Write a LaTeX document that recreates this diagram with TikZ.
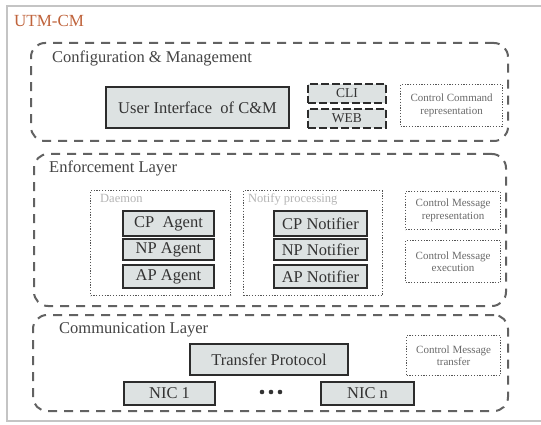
\documentclass[tikz,border=0pt]{standalone}
\usepackage{fontspec}
\setmainfont{Liberation Serif}
\definecolor{layergray}{HTML}{626262}
\definecolor{boxline}{HTML}{2C2C2C}
\definecolor{boxfill}{HTML}{DDE2E2}
\definecolor{textdark}{HTML}{333333}
\definecolor{titlegray}{HTML}{444444}
\definecolor{dotgray}{HTML}{555555}
\definecolor{smallgray}{HTML}{6A6A6A}
\definecolor{labelgray}{HTML}{B5B5B5}
\definecolor{utmcol}{HTML}{C0643C}
\definecolor{framecol}{HTML}{C4C4C4}
\begin{document}
\begin{tikzpicture}[x=1pt,y=-1pt,
  layer/.style={draw=layergray, line width=2pt, dash pattern=on 9pt off 7pt, rounded corners=14pt, anchor=north west, inner sep=0pt},
  solidbox/.style={draw=boxline, line width=2pt, fill=boxfill, anchor=north west, inner sep=0pt, font=\fontsize{16.5}{18}\selectfont, text=textdark},
  dashbox/.style={draw=boxline, line width=1.8pt, dash pattern=on 8pt off 3pt, fill=boxfill, anchor=north west, inner sep=0pt, font=\fontsize{13.5}{15}\selectfont, text=textdark},
  dotbox/.style={draw=dotgray, line width=1.2pt, dash pattern=on 1.2pt off 1.6pt, anchor=north west, inner sep=0pt, align=center, font=\fontsize{11}{12.5}\selectfont, text=smallgray},
  grpbox/.style={draw=dotgray, line width=1.2pt, dash pattern=on 1.2pt off 1.6pt, anchor=north west, inner sep=0pt},
  title/.style={anchor=base west, inner sep=0pt, font=\fontsize{16.5}{18}\selectfont, text=titlegray},
  grplabel/.style={anchor=base west, inner sep=0pt, font=\fontsize{12.5}{14}\selectfont, text=labelgray},
]
\useasboundingbox (0,0) rectangle (541,425);
\fill[white] (0,0) rectangle (541,425);
% outer frame
\draw[framecol, line width=1.5pt] (545,6) -- (7,6) -- (7,421) -- (545,421);
\node[anchor=base west, inner sep=0pt, font=\fontsize{17}{19}\selectfont, text=utmcol] (utm) at (14,27) {UTM-CM};

% Configuration & Management
\node[layer, minimum width=477pt, minimum height=98pt] (cm) at (30,42) {};
\node[title] (cmt) at (52,63) {Configuration \& Management};
\node[solidbox, minimum width=183pt, minimum height=41pt] (ui) at (105,86) {User Interface\ \ of C\&M};
\node[dashbox, minimum width=78pt, minimum height=19pt] (cli) at (307,83) {CLI};
\node[dashbox, minimum width=78pt, minimum height=19pt] (web) at (307,108) {WEB};
\node[dotbox, minimum width=102pt, minimum height=42pt] (ccr) at (400,84) {Control Command\\representation};

% Enforcement Layer
\node[layer, minimum width=472pt, minimum height=152pt] (enf) at (33,153) {};
\node[title] (enft) at (49,173) {Enforcement Layer};
\node[grpbox, minimum width=140pt, minimum height=105pt] (daemon) at (90,190) {};
\node[grplabel] (daemont) at (100,203) {Daemon};
\node[grpbox, minimum width=139pt, minimum height=105pt] (notify) at (243,190) {};
\node[grplabel] (notifyt) at (248,203) {Notify processing};
\node[solidbox, minimum width=91pt, minimum height=25pt] (cpa) at (122,210) {CP\ \ Agent};
\node[solidbox, minimum width=91pt, minimum height=21pt] (npa) at (122,238) {NP Agent};
\node[solidbox, minimum width=91pt, minimum height=23pt] (apa) at (122,264) {AP Agent};
\node[solidbox, minimum width=93pt, minimum height=25pt] (cpn) at (273,210) {CP Notifier};
\node[solidbox, minimum width=93pt, minimum height=21pt] (npn) at (273,238) {NP Notifier};
\node[solidbox, minimum width=93pt, minimum height=23pt] (apn) at (273,264) {AP Notifier};
\node[dotbox, minimum width=95pt, minimum height=38pt] (cmr) at (405,191) {Control Message\\representation};
\node[dotbox, minimum width=95pt, minimum height=42pt] (cme) at (405,240) {Control Message\\execution};

% Communication Layer
\node[layer, minimum width=475pt, minimum height=96pt] (comm) at (32,314) {};
\node[title] (commt) at (59,333) {Communication Layer};
\node[solidbox, minimum width=158pt, minimum height=31pt] (tp) at (189,343) {Transfer Protocol};
\node[solidbox, minimum width=91pt, minimum height=23pt] (nic1) at (123,381) {NIC 1};
\node[solidbox, minimum width=93pt, minimum height=23pt] (nicn) at (320,381) {NIC n};
\node[inner sep=0pt, minimum width=26pt, minimum height=6pt] (dots) at (271,392) {};
\fill[textdark] (dots.center) ++(-9,0) circle (2.3pt) (dots.center) circle (2.3pt) (dots.center) ++(9,0) circle (2.3pt);
\node[dotbox, minimum width=94pt, minimum height=40pt] (cmtr) at (406,335) {Control Message\\transfer};
\end{tikzpicture}
\end{document}
